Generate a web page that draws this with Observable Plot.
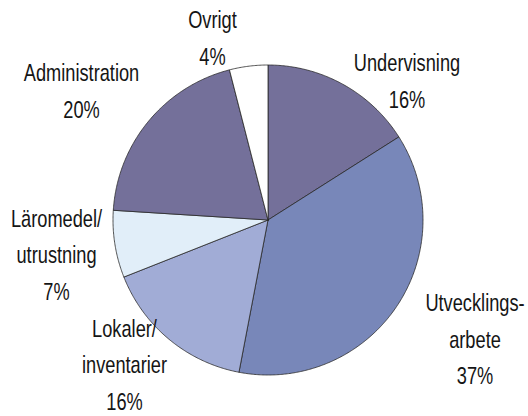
<!DOCTYPE html>
<html>
<head>
<meta charset="utf-8">
<script src="https://cdn.jsdelivr.net/npm/d3@7"></script>
<script src="https://cdn.jsdelivr.net/npm/@observablehq/plot@0.6"></script>
<style>
  html, body { margin: 0; padding: 0; background: #fff; }
</style>
</head>
<body>
<div id="chart"></div>
<script>
// ---- data ----
const categories = ["Undervisning", "Utvecklingsarbete", "Lokaler/inventarier", "Läromedel/utrustning", "Administration", "Ovrigt"];
const values = [16, 37, 16, 7, 20, 4];
const labelLines = [["Undervisning"], ["Utvecklings-", "arbete"], ["Lokaler/", "inventarier"], ["Läromedel/", "utrustning"], ["Administration"], ["Ovrigt"]];
const colors = ["#74709A", "#7887B9", "#A1ACD6", "#E1EEF9", "#74709A", "#FFFFFF"];

// ---- layout ----
const W = 528, H = 416;
const cx = 267.5, cy = 219.5, R = 155;
// label block offsets from the pie centre (px)
const labelOffset = [[139, -137.5], [207, 120.5], [-143.5, 146], [-211.5, 36], [-186.5, -127.5], [-55.5, -180.5]];

const total = d3.sum(values);
const arcs = d3.pie().sort(null).value(d => d)(values);

const slicePts = [];
arcs.forEach((a, i) => {
  slicePts.push({cat: categories[i], x: cx, y: cy});
  const n = Math.max(2, Math.ceil((a.endAngle - a.startAngle) / (Math.PI / 360)));
  for (let k = 0; k <= n; k++) {
    const t = a.startAngle + (a.endAngle - a.startAngle) * k / n;
    slicePts.push({cat: categories[i], x: cx + R * Math.sin(t), y: cy - R * Math.cos(t)});
  }
  slicePts.push({cat: categories[i], x: cx, y: cy});
});

const labels = categories.map((c, i) => ({
  cat: c,
  text: [...labelLines[i], Math.round(values[i] / total * 100) + "%"].join("\n"),
  x: cx + labelOffset[i][0],
  y: cy + labelOffset[i][1]
}));

const chart = Plot.plot({
  width: W,
  height: H,
  margin: 0,
  x: {domain: [0, W], range: [0, W], axis: null},
  y: {domain: [0, H], range: [0, H], axis: null},
  color: {domain: categories, range: colors},
  style: {background: "white"},
  marks: [
    Plot.line(slicePts, {x: "x", y: "y", z: "cat", fill: "cat", stroke: "#2a2a2a", strokeWidth: 0.8, strokeLinejoin: "round", curve: "linear"}),
    Plot.text(labels, {x: "x", y: "y", dy: -4.5, text: "text", fontSize: 24, lineHeight: 1.52, lineAnchor: "middle", textAnchor: "middle", fill: "#151515", fontFamily: "'Liberation Sans', Arial, sans-serif"})
  ]
});

chart.querySelectorAll('g[aria-label="text"] text').forEach(t => {
  const tr = t.getAttribute("transform") || "";
  t.setAttribute("transform", tr + " scale(0.76,1)");
});

document.getElementById("chart").appendChild(chart);
</script>
</body>
</html>
